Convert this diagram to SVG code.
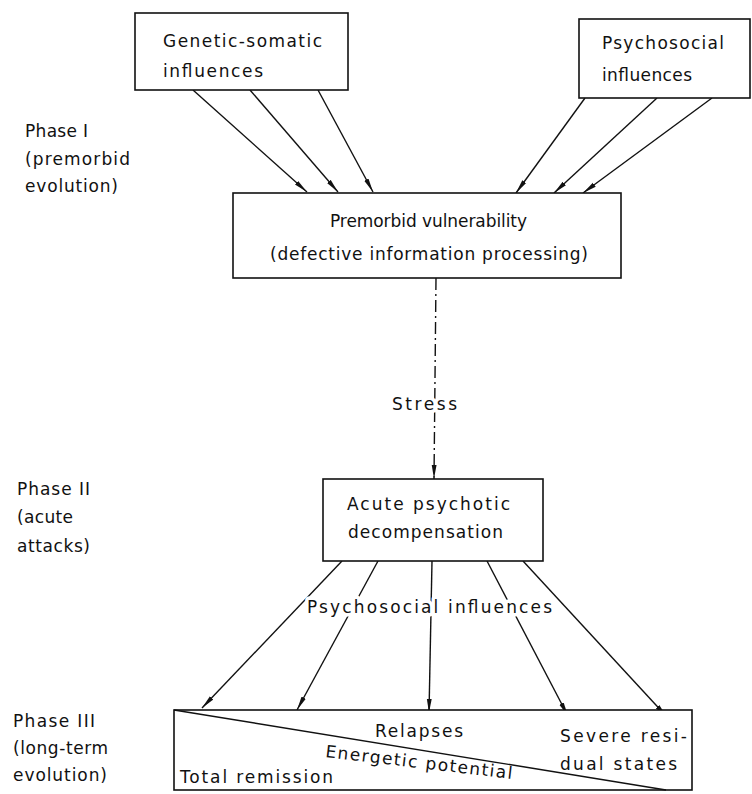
<svg xmlns="http://www.w3.org/2000/svg" width="752" height="794" viewBox="0 0 752 794">
<style>
text{font-family:"DejaVu Sans","Liberation Sans",sans-serif;font-size:17px;fill:#111;}
.box{fill:#fff;stroke:#111;stroke-width:1.6;}
.ln{fill:none;stroke:#111;stroke-width:1.4;}
.halo{paint-order:stroke;stroke:#fff;stroke-width:7px;stroke-linejoin:round;}
</style>
<defs>
<marker id="ah" viewBox="0 0 14 6" refX="14" refY="3" markerWidth="14" markerHeight="6" markerUnits="userSpaceOnUse" orient="auto">
<path d="M0,0.6 L14,3 L0,5.4 Z" fill="#111"/>
</marker>
</defs>
<g id="phase-labels">
<text x="25" y="137" textLength="63">Phase I</text>
<text x="25" y="165" textLength="105">(premorbid</text>
<text x="25" y="192" textLength="93">evolution)</text>
<text x="17" y="495" textLength="73">Phase II</text>
<text x="17" y="523" textLength="56">(acute</text>
<text x="17" y="552" textLength="73">attacks)</text>
<text x="13" y="727" textLength="82">Phase III</text>
<text x="13" y="754" textLength="95">(long-term</text>
<text x="13" y="781" textLength="94">evolution)</text>
</g>
<g id="connectors">
<line class="ln" x1="193" y1="90" x2="307" y2="192" marker-end="url(#ah)"/>
<line class="ln" x1="250" y1="90" x2="338" y2="192" marker-end="url(#ah)"/>
<line class="ln" x1="318" y1="90" x2="373" y2="192" marker-end="url(#ah)"/>
<line class="ln" x1="585" y1="98" x2="516" y2="193" marker-end="url(#ah)"/>
<line class="ln" x1="657" y1="98" x2="554" y2="193" marker-end="url(#ah)"/>
<line class="ln" x1="712" y1="98" x2="583" y2="193" marker-end="url(#ah)"/>
<line class="ln" x1="436" y1="278" x2="434" y2="479" stroke-dasharray="12 4 2 4" marker-end="url(#ah)"/>
<line class="ln" x1="342" y1="561" x2="202" y2="708" marker-end="url(#ah)"/>
<line class="ln" x1="378" y1="561" x2="297" y2="710" marker-end="url(#ah)"/>
<line class="ln" x1="432" y1="561" x2="429" y2="713" marker-end="url(#ah)"/>
<line class="ln" x1="487" y1="561" x2="568" y2="716" marker-end="url(#ah)"/>
<line class="ln" x1="523" y1="561" x2="667" y2="717" marker-end="url(#ah)"/>
<text class="halo" x="392" y="410" textLength="65">Stress</text>
<text class="halo" x="307" y="613" textLength="245">Psychosocial influences</text>
</g>
<g id="genetic-somatic">
<rect class="box" x="135" y="13" width="213" height="77"/>
<text x="163" y="47" textLength="159">Genetic-somatic</text>
<text x="163" y="77" textLength="100">influences</text>
</g>
<g id="psychosocial-top">
<rect class="box" x="579" y="19" width="171" height="79"/>
<text x="602" y="49" textLength="122">Psychosocial</text>
<text x="602" y="81" textLength="90">influences</text>
</g>
<g id="premorbid">
<rect class="box" x="233" y="193" width="388" height="85"/>
<text x="330" y="227" textLength="197">Premorbid vulnerability</text>
<text x="270" y="260" textLength="318">(defective information processing)</text>
</g>
<g id="acute">
<rect class="box" x="323" y="479" width="220" height="82"/>
<text x="347" y="510" textLength="163">Acute psychotic</text>
<text x="348" y="538" textLength="155">decompensation</text>
</g>
<g id="long-term">
<rect class="box" x="174" y="710" width="518" height="80"/>
<line class="ln" x1="174" y1="710" x2="666" y2="790"/>
<text x="375" y="737" textLength="88">Relapses</text>
<text x="560" y="742" textLength="127">Severe resi-</text>
<text x="560" y="770" textLength="117">dual states</text>
<text x="325" y="757" textLength="188" transform="rotate(6.7 325 757)">Energetic potential</text>
<text x="180" y="783" textLength="153">Total remission</text>
</g>
</svg>
